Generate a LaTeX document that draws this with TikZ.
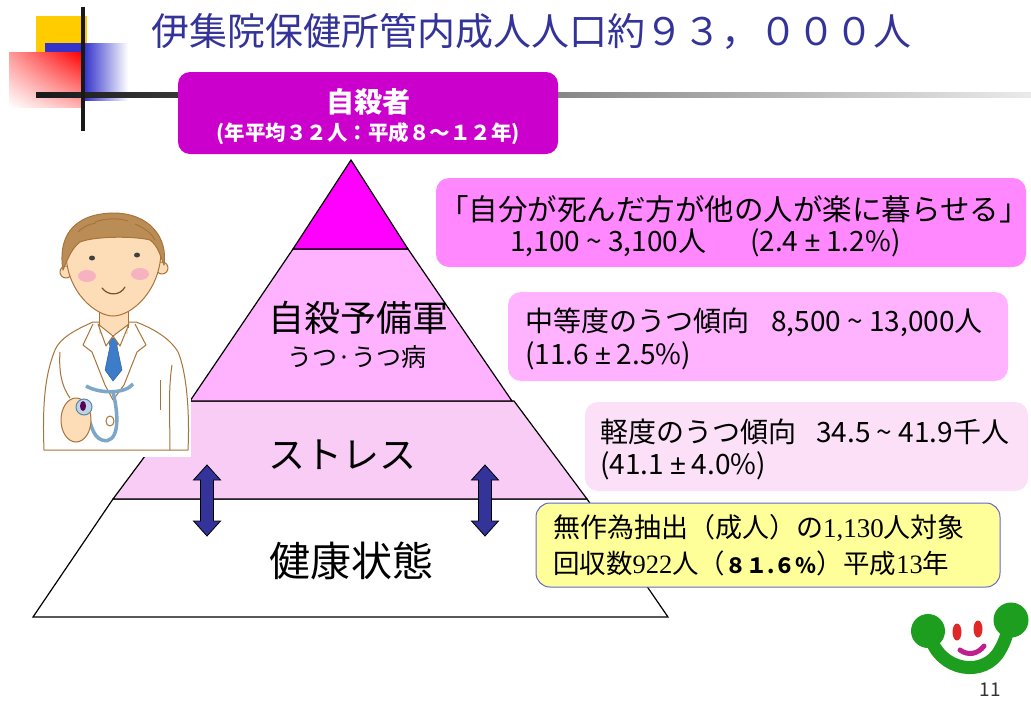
\documentclass[tikz,border=0pt]{standalone}
\usepackage{fontspec}
\setmainfont{Noto Sans CJK JP}
\newfontfamily\numserif{Liberation Serif}
\newfontfamily\latinsans{Liberation Sans}
\usetikzlibrary{shadings}
\definecolor{titleblue}{HTML}{333399}
\definecolor{topmag}{HTML}{CC00CC}
\definecolor{apexmag}{HTML}{FF00FF}
\definecolor{layertwo}{HTML}{FFB3FF}
\definecolor{layerthree}{HTML}{F9CCF6}
\definecolor{boxone}{HTML}{FF88FF}
\definecolor{boxthree}{HTML}{FBE0F8}
\definecolor{noteyellow}{HTML}{FFFF99}
\definecolor{noteedge}{HTML}{6666CC}
\definecolor{arrowblue}{HTML}{333399}
\definecolor{decoblue}{HTML}{3333CC}
\definecolor{decoyellow}{HTML}{FFCC00}
\definecolor{skin}{HTML}{FDDDB8}
\definecolor{hair}{HTML}{B98D55}
\definecolor{outline}{HTML}{A8743A}
\definecolor{cheek}{HTML}{F6B2C0}
\definecolor{tieblue}{HTML}{3C7CC8}
\definecolor{stethblue}{HTML}{7DA7C8}
\definecolor{stethdark}{HTML}{5A86A8}
\definecolor{logogreen}{HTML}{1E9E1E}
\definecolor{logored}{HTML}{E02828}
\definecolor{logomouth}{HTML}{C0208C}
\newcommand\setfs[1]{\fontsize{#1}{#1}\selectfont}
\newcommand\plusminus{{\latinsans ±}}
% double-headed block arrow, centred on x = #1
\newcommand\pyrarrow[1]{\draw[dblarrow] (#1,465) -- ++(13.5,15) -- ++(-7,0) -- ++(0,41) -- ++(7,0) -- ++(-13.5,15) -- ++(-13.5,-15) -- ++(7,0) -- ++(0,-41) -- ++(-7,0) -- cycle;}
\tikzset{
  layer/.style={draw=black, line width=1.2pt, line join=miter},
  infobox/.style={rectangle, rounded corners=13pt, inner sep=0pt},
  boxtext/.style={anchor=west, inner sep=0pt, font=\setfs{28}},
  notetext/.style={anchor=west, inner sep=0pt, font=\setfs{27}},
  pyrlabel/.style={inner sep=0pt},
  dblarrow/.style={fill=arrowblue, draw=black, line width=0.8pt},
  doc/.style={draw=outline, line width=1pt, line join=round},
}
\begin{document}
\begin{tikzpicture}[x=1pt,y=-1pt]
\useasboundingbox (0,0) rectangle (1031,721);

% corner ornament
\fill[decoyellow] (36,16) rectangle (87,100);
\fill[decoblue] (45,43) rectangle (84,100);
\shade[left color=decoblue, right color=white] (84,43) rectangle (128,100);
\shade[upper left=red!40, upper right=red, lower left=white, lower right=red!30] (9,52) rectangle (82,107);
\shade[left color=black!90, middle color=black!30, right color=black!8] (36,92.5) rectangle (1031,97.5);
\fill[black!90] (81,7) rectangle (85,131);

% title
\node[text=titleblue, font=\setfs{38}, anchor=west, inner sep=0pt] (title) at (151,31) {伊集院保健所管内成人人口約９３，０００人};

% top box
\node[infobox, fill=topmag, minimum width=380pt, minimum height=82pt, rounded corners=12pt] (victims) at (368,113) {};
\node[text=white, font=\bfseries\setfs{28}] (victimst) at (368,102) {自殺者};
\node[text=white, font=\bfseries\setfs{20.5}] (victimsn) at (368,134) {(年平均３２人：平成８～１２年)};

% pyramid
\draw[layer, fill=white] (113,499) -- (587,499) -- (668,617) -- (33,617) -- cycle;
\draw[layer, fill=layerthree] (186,401) -- (514,401) -- (587,499) -- (113,499) -- cycle;
\draw[layer, fill=layertwo] (293,249) -- (408,249) -- (512,401) -- (190,401) -- cycle;
\draw[layer, fill=apexmag] (351,160) -- (408,249) -- (293,249) -- cycle;

\node[pyrlabel, font=\setfs{36}] (reserve) at (358,318) {自殺予備軍};
\node[pyrlabel, font=\setfs{25}] (depress) at (357,357) {うつ·うつ病};
\node[pyrlabel, font=\setfs{37}] (stress) at (342,455) {ストレス};
\node[pyrlabel, font=\setfs{41}] (health) at (351,561) {健康状態};

\pyrarrow{207}
\pyrarrow{485}

% doctor
\fill[white] (37,208) rectangle (191,457);
\draw[doc, fill=white] (93,322) .. controls (75,330) and (60,338) .. (55,350) .. controls (46,372) and (42,400) .. (44,450) -- (188,450) .. controls (190,410) and (186,370) .. (178,352) .. controls (170,338) and (152,328) .. (136,322) -- cycle;
\fill[skin] (99,300) rectangle (128,334);
\draw[doc] (99,305) -- (99,328) (128,305) -- (128,328);
\draw[doc] (93,324) -- (83,345) -- (92,352) -- (105,385) -- (113,400);
\draw[doc] (135,324) -- (146,345) -- (137,352) -- (124,385) -- (113,400);
\draw[draw=tieblue!70!black, fill=tieblue] (107,338) -- (119,338) -- (117,346) -- (122,370) -- (113,381) -- (105,370) -- (110,346) -- cycle;
\draw[doc, fill=white] (98,324) -- (106,346) -- (113,336) -- cycle;
\draw[doc, fill=white] (129,324) -- (120,346) -- (113,336) -- cycle;
\draw[doc] (60,352) .. controls (58,380) and (66,392) .. (70,398);
\draw[doc] (172,365) .. controls (168,390) and (170,420) .. (170,450);
\draw[doc] (160,380) -- (160,410);
\draw[doc, fill=white] (110,421) ellipse (4pt and 5pt);
% head
\draw[doc, fill=skin] (66,272) circle (6pt);
\draw[doc, fill=skin] (162,268) circle (6pt);
\draw[doc, fill=skin] (66,252) .. controls (66,292) and (96,316) .. (113,316) .. controls (132,316) and (161,290) .. (161,250) .. controls (161,225) and (66,225) .. (66,252) -- cycle;
\draw[doc, fill=hair] (63,270) .. controls (58,240) and (70,214) .. (113,213) .. controls (150,213) and (168,238) .. (164,265) .. controls (160,255) and (158,246) .. (150,240) .. controls (135,236) and (95,236) .. (80,242) .. controls (72,248) and (68,258) .. (63,270) -- cycle;
\draw[doc] (95,222) .. controls (105,218) and (120,218) .. (128,221);
\draw[doc] (78,232) .. controls (84,226) and (90,224) .. (96,223);
\draw[doc] (135,224) .. controls (145,228) and (152,234) .. (155,240);
\fill[black!75] (92,258) ellipse (3pt and 2.5pt);
\fill[black!75] (137,255) ellipse (3pt and 2.5pt);
\fill[cheek] (87,276) ellipse (9pt and 6pt);
\fill[cheek] (140,274) ellipse (9pt and 6pt);
\draw[outline!70!black, line width=1.2pt, line cap=round] (102,288) .. controls (108,296) and (120,296) .. (125,287);
% stethoscope and hand
\draw[stethblue, line width=3.5pt] (86,386) .. controls (100,394) and (125,394) .. (133,384);
\draw[stethblue, line width=3.5pt] (113,392) .. controls (120,420) and (118,445) .. (102,440) .. controls (92,437) and (90,420) .. (86,410);
\draw[doc, fill=skin] (76,420) ellipse (15pt and 22pt);
\draw[stethdark, line width=1pt, fill=stethblue!50] (84,407) circle (8pt);
\fill[violet!70!black] (83,406) ellipse (3pt and 5pt);

% text boxes
\node[infobox, fill=boxone, minimum width=590pt, minimum height=89pt] (wish) at (731,222.5) {};
\node[inner sep=0pt, font=\setfs{29.5}] (wisha) at (734,209) {「自分が死んだ方が他の人が楽に暮らせる」};
\node[boxtext] (wishb) at (510,243) {1,100 \textasciitilde{} 3,100人};
\node[boxtext] (wishc) at (750,243) {(2.4 \plusminus{} 1.2\%)};

\node[infobox, fill=layertwo, minimum width=500pt, minimum height=89pt] (moderate) at (758,336.5) {};
\node[boxtext] (moderatea) at (525,322) {中等度のうつ傾向\hspace{22pt}8,500 \textasciitilde{} 13,000人};
\node[boxtext] (moderateb) at (525,356) {(11.6 \plusminus{} 2.5\%)};

\node[infobox, fill=boxthree, minimum width=443pt, minimum height=89pt] (mild) at (806.5,446.5) {};
\node[boxtext] (milda) at (600,432) {軽度のうつ傾向\hspace{20pt}34.5 \textasciitilde{} 41.9千人};
\node[boxtext] (mildb) at (600,466) {(41.1 \plusminus{} 4.0\%)};

\node[infobox, fill=noteyellow, draw=noteedge, line width=1pt, minimum width=464pt, minimum height=84pt, rounded corners=14pt] (survey) at (768,545) {};
\node[notetext] (surveya) at (553,528) {無作為抽出（成人）の{\numserif 1,130}人対象};
\node[notetext, font=\setfs{26.5}] (surveyb) at (553,563) {回収数{\numserif 922}人（{\bfseries\setfs{21}８１.６％}）平成{\numserif 13}年};

% logo
\draw[logogreen, line width=13pt, line cap=round] (930,636) .. controls (940,672) and (985,678) .. (1000,650) .. controls (1006,640) and (1008,630) .. (1010,620);
\fill[logogreen] (928,631) circle (17pt);
\fill[logogreen] (1011,620) circle (17.5pt);
\fill[logored] (957,632) ellipse (4.5pt and 8.5pt);
\fill[logored] (978,629) ellipse (4.5pt and 8.5pt);
\draw[logomouth, line width=5pt, line cap=round] (960,650) .. controls (968,656) and (978,654) .. (984,646);
\node[text=black!80, font=\setfs{19}, inner sep=0pt] (pageno) at (990,690) {11};
\end{tikzpicture}
\end{document}
